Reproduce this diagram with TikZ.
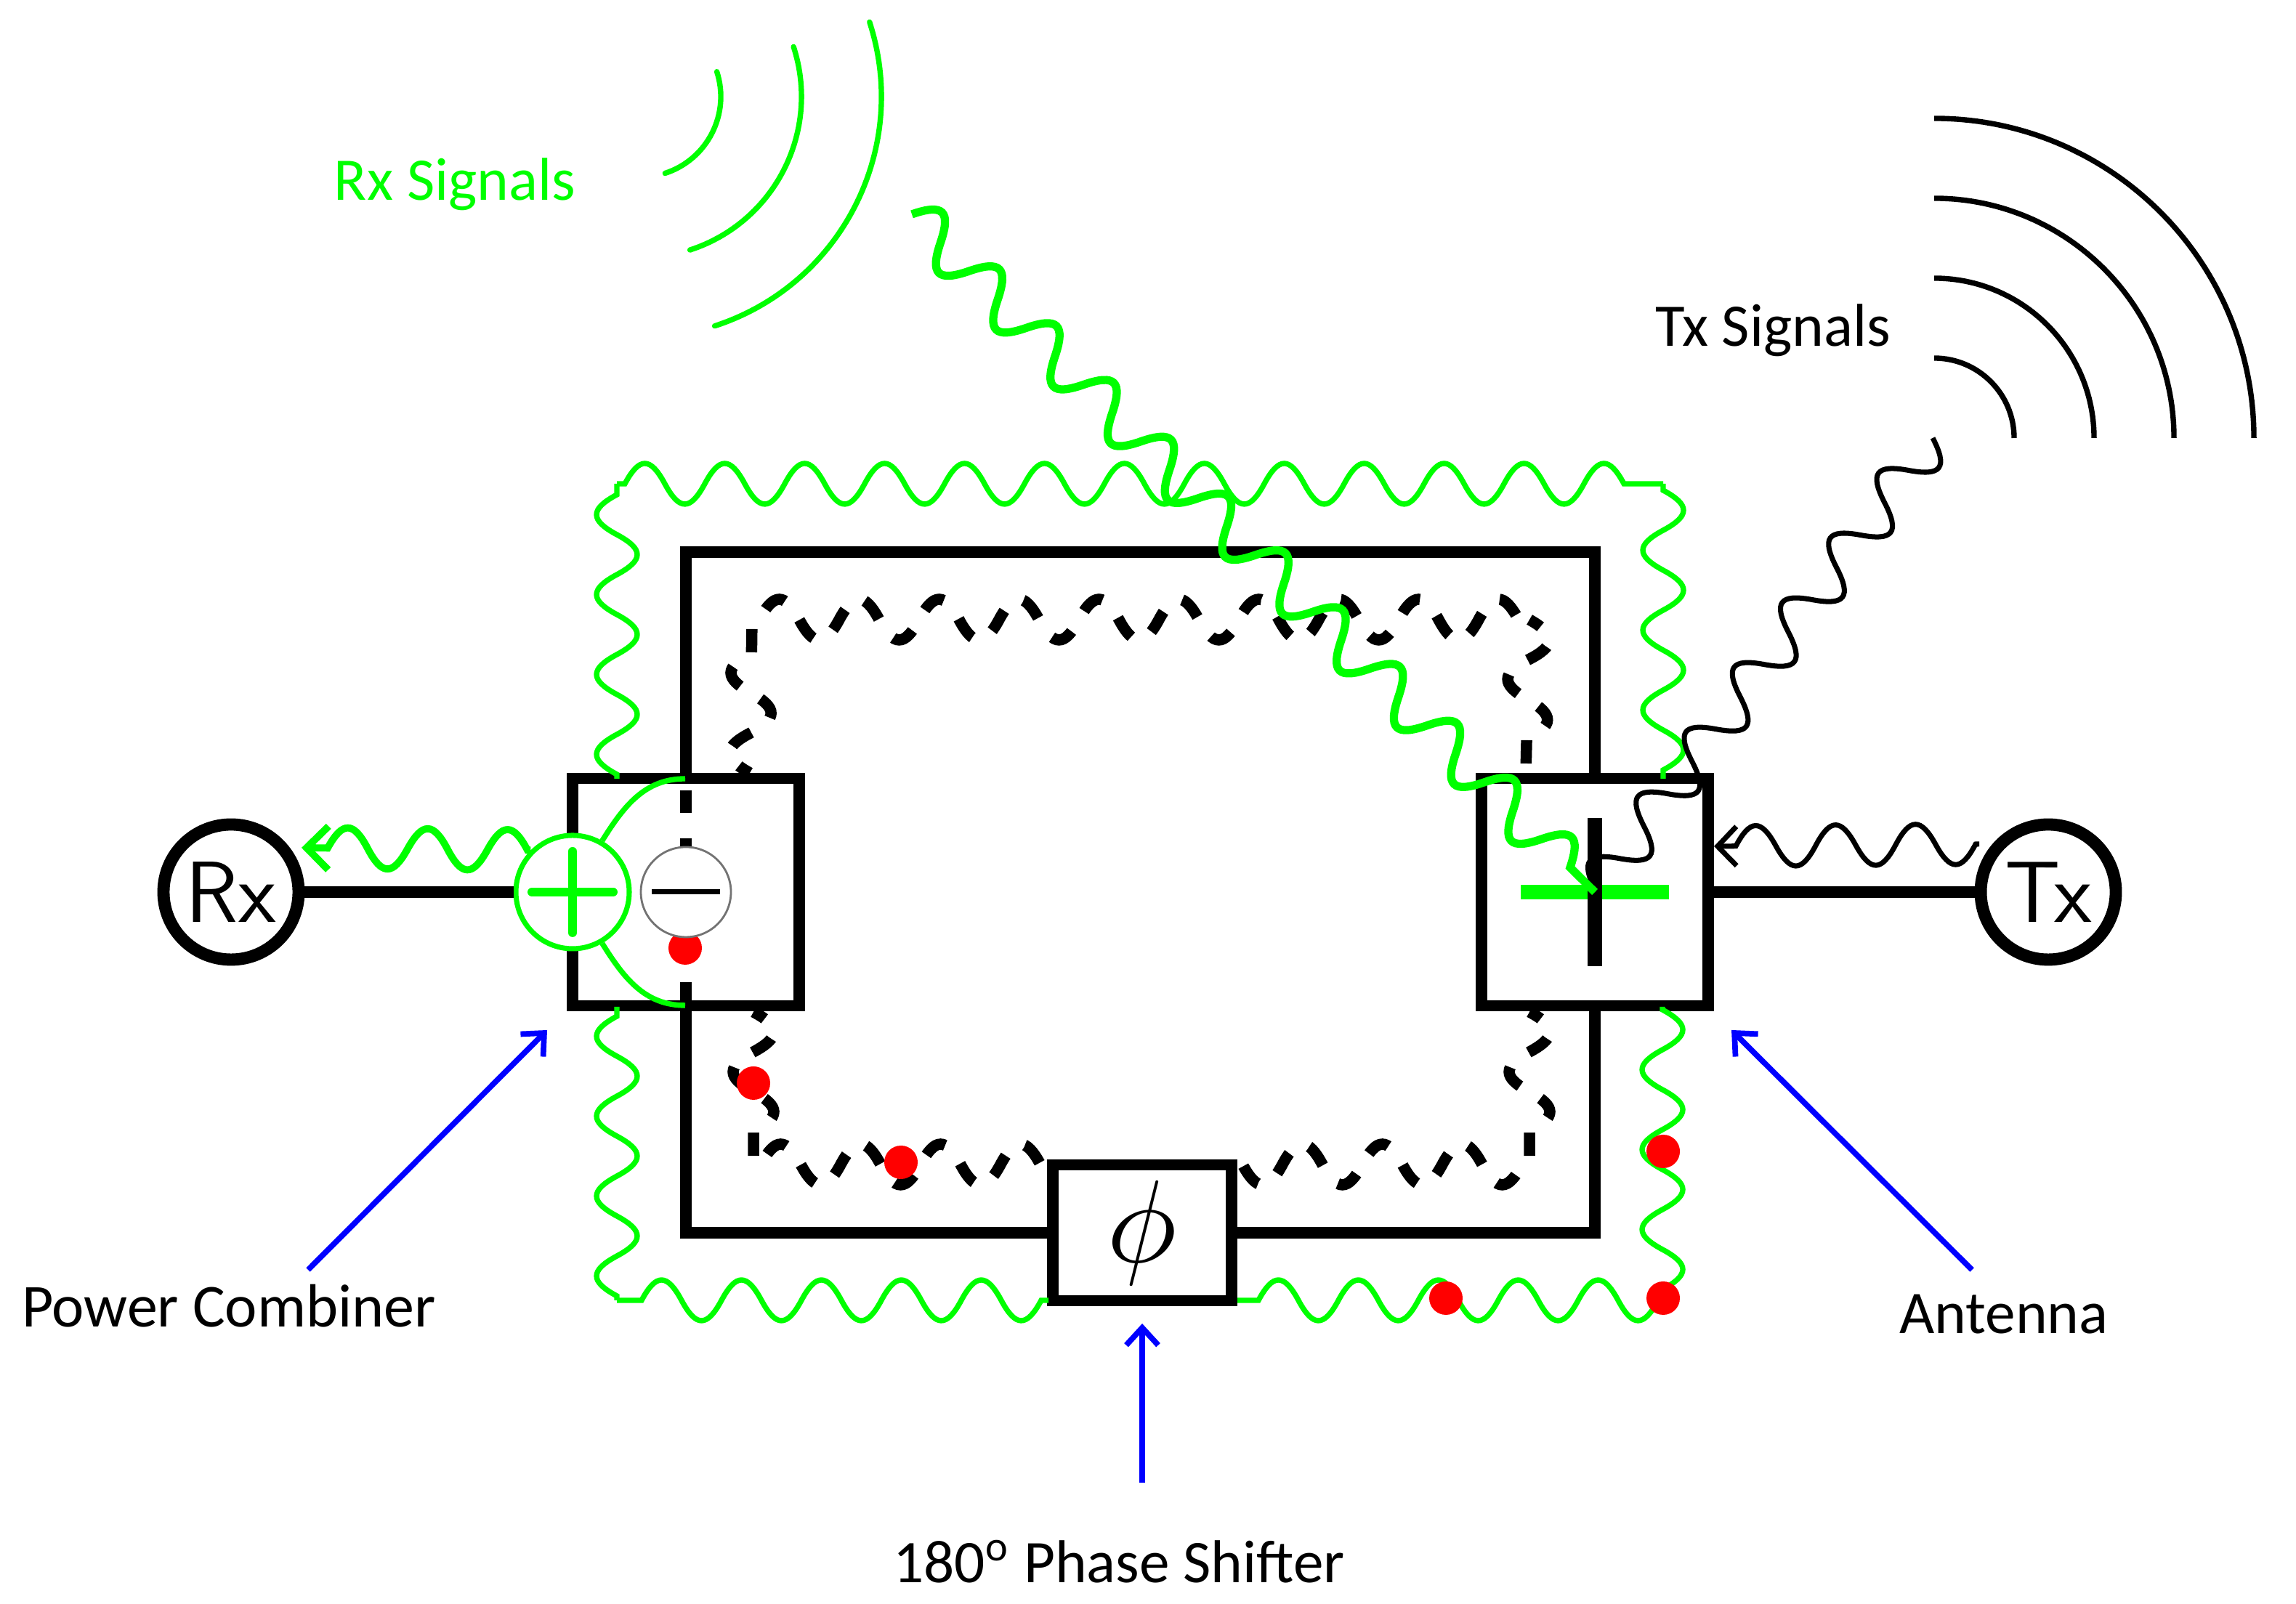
\documentclass[tikz,border=0pt]{standalone}
\usepackage{fontspec}
\setmainfont{Carlito}
\usetikzlibrary{arrows.meta,decorations.pathmorphing}
\definecolor{sigblue}{RGB}{0,0,255}
\definecolor{siggreen}{RGB}{0,255,0}
\definecolor{dotred}{RGB}{255,0,0}
\pgfdeclaredecoration{ripple}{rise}{
    \state{rise}[switch if less than=0.5\pgfdecorationsegmentlength to final,width=0.5\pgfdecorationsegmentlength,next state=fall]{
        \pgfpathcurveto{\pgfpoint{0.182\pgfdecorationsegmentlength}{1.333\pgfdecorationsegmentamplitude}}{\pgfpoint{0.318\pgfdecorationsegmentlength}{1.333\pgfdecorationsegmentamplitude}}{\pgfpoint{0.5\pgfdecorationsegmentlength}{0pt}}
    }
    \state{fall}[switch if less than=0.5\pgfdecorationsegmentlength to final,width=0.5\pgfdecorationsegmentlength,next state=rise]{
        \pgfpathcurveto{\pgfpoint{0.182\pgfdecorationsegmentlength}{-1.333\pgfdecorationsegmentamplitude}}{\pgfpoint{0.318\pgfdecorationsegmentlength}{-1.333\pgfdecorationsegmentamplitude}}{\pgfpoint{0.5\pgfdecorationsegmentlength}{0pt}}
    }
    \state{final}{\pgfpathlineto{\pgfpointdecoratedpathlast}}
}
\tikzset{
    lbl/.style={anchor=base,inner sep=0pt,font=\fontsize{11.85}{14}\selectfont},
    wave/.style={decorate,decoration={ripple,segment length=0.55cm,amplitude=0.14cm}},
    antwave/.style={wave,draw=siggreen,line width=1.05pt},
    innerwave/.style={wave,line width=2.2pt,dash pattern=on 0.16cm off 0.165cm,dash phase=0.19cm},
    upwave/.style={innerwave,dash phase=0.07cm},
    ringline/.style={line width=2.3pt},
    rfbox/.style={draw,line width=2.15pt,inner sep=0pt,minimum width=1.56cm,minimum height=1.565cm},
    port/.style={draw,circle,line width=2.4pt,inner sep=0pt,minimum size=0.93cm,font=\sffamily\fontsize{17}{17}\selectfont},
    callout/.style={draw=sigblue,line width=1.1pt,-{Straight Barb[length=0.12cm,width=0.22cm]}},
    sigtip/.style={{Straight Barb[length=0.13cm,width=0.27cm]}-},
    wavefront/.style={line width=1.05pt,line cap=round}
}
\begin{document}
\begin{tikzpicture}
    \useasboundingbox (0,0) rectangle (15.8,11.04);
    % blocks
    \node[rfbox] (combbox) at (4.72,4.9) {};
    \node[rfbox] (antbox) at (10.975,4.9) {};
    \node[rfbox,minimum width=1.23cm,minimum height=0.935cm] (phasebox) at (7.86,2.555) {};
    \node[scale=2.3] (phi) at (phasebox.center) {$\phi$};
    \node[port] (rx) at (1.59,4.9) {Rx};
    \node[port] (tx) at (14.095,4.9) {Tx};
    % corners
    \coordinate (ringtl) at (4.72,7.24);
    \coordinate (ringtr) at (10.975,7.24);
    \coordinate (outl) at (4.245,5.68);
    \coordinate (outtl) at (4.245,7.71);
    \coordinate (outtr) at (11.445,7.71);
    \coordinate (outr) at (11.445,5.68);
    \coordinate (lowl) at (4.245,4.11);
    \coordinate (lowbl) at (4.245,2.09);
    \coordinate (lowmid) at (7.215,2.09);
    \coordinate (lowmidr) at (8.515,2.09);
    \coordinate (lowbr) at (11.44,2.09);
    \coordinate (lowr) at (11.44,4.11);
    % ring
    \draw[ringline] (combbox.north) -- (ringtl) -- (ringtr) -- (antbox.north);
    \draw[ringline] (combbox.south) |- (phasebox.west);
    \draw[ringline] (antbox.south) |- (phasebox.east);
    \draw[ringline,dash pattern=on 0.155cm off 0.175cm] ([yshift=-0.12cm]combbox.north) -- ([yshift=0.05cm]combbox.south);
    % inner waves
    \draw[upwave] (5.16,5.72) -- (5.175,6.775);
    \draw[innerwave,decoration={pre length=0.05cm}] (5.175,6.775) -- (10.525,6.775);
    \draw[upwave] (10.525,6.775) -- (10.5,5.725);
    \draw[upwave,decoration={post length=0.2cm}] (5.185,4.075) -- (5.185,2.99);
    \draw[innerwave,decoration={pre length=0.05cm}] (5.185,3.025) -- (7.17,3.025);
    \draw[upwave,decoration={post length=0.2cm}] (10.525,4.075) -- (10.525,2.99);
    \draw[innerwave,decoration={pre length=0.05cm}] (10.525,3.025) -- (8.515,3.025);
    % antenna traces
    \draw[antwave,decoration={pre length=0.03cm}] (outl) -- (outtl);
    \draw[antwave,decoration={pre length=0.055cm,post length=0.25cm}] (outtl) -- (outtr);
    \draw[antwave,decoration={pre length=0.045cm}] (outtr) -- (outr);
    \draw[antwave,decoration={pre length=0.03cm}] (lowbl) -- (lowl);
    \draw[antwave,decoration={pre length=0.17cm}] (lowbl) -- (lowmid);
    \draw[antwave,decoration={pre length=0.145cm}] (lowmidr) -- (lowbr);
    \draw[antwave,decoration={pre length=0.02cm}] (lowr) -- (lowbr);
    % ports
    \node[draw=siggreen,fill=white,circle,line width=1pt,inner sep=0pt,minimum size=0.78cm] (plus) at (3.94,4.9) {};
    \draw[ringline] (rx) -- (plus);
    \draw[ringline] (antbox) -- (tx);
    \draw[siggreen,line width=1.7pt,line cap=round] ([xshift=-0.28cm]plus.center) -- ([xshift=0.28cm]plus.center);
    \draw[siggreen,line width=1.7pt,line cap=round] ([yshift=-0.28cm]plus.center) -- ([yshift=0.28cm]plus.center);
    \draw[siggreen,line width=1.05pt] (plus.60) to[out=58,in=180] (4.715,5.68);
    \draw[siggreen,line width=1.05pt] (plus.-60) to[out=-58,in=180] (4.715,4.12);
    % dots
    \foreach \x/\y in {4.715/4.515,5.185/3.585,6.2/3.04,9.95/2.105,11.445/2.105,11.445/3.115}
        \fill[dotred] (\x,\y) circle (0.115);
    \node[draw=black!55,fill=white,circle,line width=0.4pt,inner sep=0pt,minimum size=0.62cm] (minus) at (combbox.center) {};
    \draw[line width=1pt] ([xshift=-0.235cm]minus.center) -- ([xshift=0.235cm]minus.center);
    % cross in the antenna block
    \draw[siggreen,line width=2.9pt] ([xshift=-0.51cm]antbox.center) -- ([xshift=0.51cm]antbox.center);
    \draw[line width=2.9pt] ([yshift=-0.51cm]antbox.center) -- ([yshift=0.51cm]antbox.center);
    % signals
    \coordinate (rxtip) at (2.075,5.205);
    \coordinate (txtip) at (11.795,5.215);
    \coordinate (txstart) at (13.62,5.23);
    \coordinate (rxfar) at (6.275,9.565);
    \coordinate (txfar) at (13.3,8.025);
    \draw[wave,{Straight Barb[length=0.15cm,width=0.3cm]}-,draw=siggreen,line width=1.4pt,decoration={pre length=0.18cm}] (rxtip) -- (plus.135);
    \draw[wave,sigtip,line width=1pt,decoration={pre length=0.15cm}] (txtip) -- (txstart);
    \draw[wave,line width=1pt,decoration={amplitude=0.155cm,segment length=0.555cm}] (txfar) -- (antbox.center);
    \draw[wave,draw=siggreen,line width=1.6pt,decoration={amplitude=0.155cm,segment length=0.555cm}] (rxfar) -- (antbox.center);
    % wavefronts
    \foreach \r in {0.555,1.11,1.66}
        \draw[wavefront,siggreen] (4.405,10.375) ++(-72:\r) arc[start angle=-72,end angle=18,radius=\r];
    \foreach \r in {0.55,1.1,1.65,2.2}
        \draw[wavefront,line cap=butt] (13.31,8.025) ++(90:\r) arc[start angle=90,end angle=0,radius=\r];
    % callouts
    \coordinate (combfoot) at (2.12,2.3);
    \coordinate (combhead) at (3.765,3.95);
    \coordinate (antfoot) at (13.57,2.3);
    \coordinate (anthead) at (11.915,3.95);
    \coordinate (phasefoot) at (7.86,0.835);
    \coordinate (phasehead) at (7.86,1.93);
    \draw[callout] (combfoot) -- (combhead);
    \draw[callout] (antfoot) -- (anthead);
    \draw[callout] (phasefoot) -- (phasehead);
    % labels
    \node[lbl,text=siggreen] (rxlab) at (3.13,9.66) {Rx Signals};
    \node[lbl] (txlab) at (12.2,8.655) {Tx Signals};
    \node[lbl,font=\fontsize{11.95}{14}\selectfont] (comblab) at (1.575,1.905) {Power Combiner};
    \node[lbl] (antlab) at (13.79,1.86) {Antenna};
    \node[lbl] (phaselab) at (7.7,0.145) {180\textsuperscript{o} Phase Shifter};
\end{tikzpicture}
\end{document}
